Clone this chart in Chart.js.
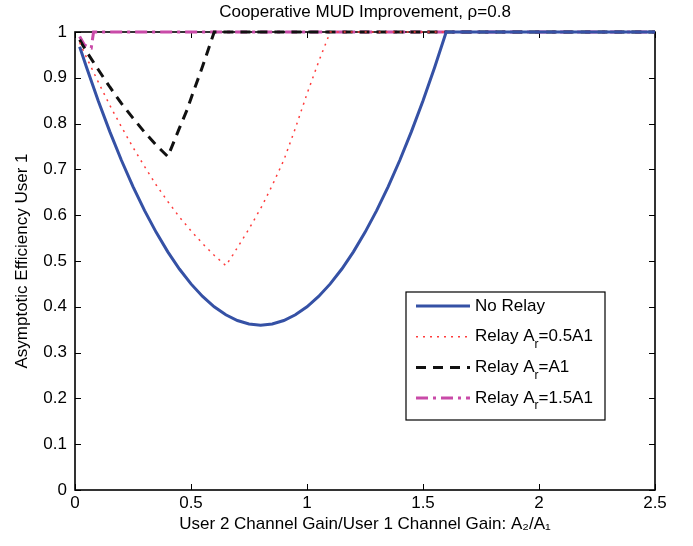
<!DOCTYPE html>
<html>
<head>
<meta charset="utf-8">
<script src="https://cdn.jsdelivr.net/npm/chart.js@4"></script>
<style>
  html, body { margin: 0; padding: 0; background: #fff; }
  #wrap { width: 693px; height: 546px; }
</style>
</head>
<body>
<div id="wrap"><canvas id="mudChart"></canvas></div>
<script>
const xTicks = [0, 0.5, 1, 1.5, 2, 2.5];
const yTicks = [0, 0.1, 0.2, 0.3, 0.4, 0.5, 0.6, 0.7, 0.8, 0.9, 1];

// values
const noRelayX = [0.02, 0.05, 0.1, 0.15, 0.2, 0.25, 0.3, 0.35, 0.4, 0.45, 0.5, 0.55, 0.6, 0.65, 0.7, 0.75, 0.8,
                  0.85, 0.9, 0.95, 1.0, 1.05, 1.1, 1.15, 1.2, 1.25, 1.3, 1.35, 1.4, 1.45, 1.5, 1.55, 1.6, 2.5];
const noRelayY = [0.968, 0.9225, 0.85, 0.7825, 0.72, 0.6625, 0.61, 0.5625, 0.52, 0.4825, 0.45, 0.4225, 0.40, 0.3825, 0.37, 0.3625, 0.36,
                  0.3625, 0.37, 0.3825, 0.40, 0.4225, 0.45, 0.4825, 0.52, 0.5625, 0.61, 0.6625, 0.72, 0.7825, 0.85, 0.9225, 1.0, 1.0];

const relayHalfX = [0.02, 0.05, 0.1, 0.15, 0.2, 0.25, 0.3, 0.35, 0.4, 0.45, 0.5, 0.55, 0.6, 0.65,
                    0.68, 0.75, 0.806, 0.85, 0.9, 0.95, 1.0, 1.05, 1.1, 2.5];
const relayHalfY = [0.977, 0.944, 0.891, 0.840, 0.793, 0.748, 0.706, 0.666, 0.63, 0.596, 0.566, 0.538, 0.5125, 0.49,
                    0.513, 0.57, 0.62, 0.665, 0.72, 0.79, 0.865, 0.935, 1.0, 1.0];

const relayOneX = [0.02, 0.05, 0.1, 0.15, 0.2, 0.25, 0.3, 0.35, 0.4, 0.45, 0.483, 0.5, 0.55, 0.6, 2.5];
const relayOneY = [0.983, 0.957, 0.918, 0.880, 0.844, 0.812, 0.781, 0.753, 0.728, 0.79, 0.83, 0.855, 0.925, 1.0, 1.0];

const relayOneHalfX = [0.02, 0.04, 0.06, 0.07, 0.08, 2.5];
const relayOneHalfY = [0.99, 0.972, 0.966, 0.965, 1.0, 1.0];

const seriesLabels = ['No Relay', 'Relay A_r=0.5A1', 'Relay A_r=A1', 'Relay A_r=1.5A1'];

const FONT = '"Liberation Sans", Arial, Helvetica, sans-serif';

function pts(xs, ys) {
    return xs.map((x, i) => ({ x: x, y: ys[i] }));
}

const framePlugin = {
    id: 'frame',
    beforeDatasetsDraw(chart) {
        const { ctx, chartArea: a, scales: { x, y } } = chart;
        ctx.save();
        ctx.strokeStyle = '#000';
        ctx.lineWidth = 1;
        ctx.beginPath();
        xTicks.forEach(v => {
            const px = Math.round(x.getPixelForValue(v)) + 0.5;
            ctx.moveTo(px, a.bottom); ctx.lineTo(px, a.bottom - 6);
            ctx.moveTo(px, a.top); ctx.lineTo(px, a.top + 6);
        });
        yTicks.forEach(v => {
            const py = Math.round(y.getPixelForValue(v)) + 0.5;
            ctx.moveTo(a.left, py); ctx.lineTo(a.left + 6, py);
            ctx.moveTo(a.right, py); ctx.lineTo(a.right - 6, py);
        });
        ctx.stroke();
        ctx.lineWidth = 1.6;
        ctx.strokeRect(a.left, a.top, a.right - a.left, a.bottom - a.top);
        ctx.restore();
    }
};

// matlab-like legend box inside the axes, with subscript r
const boxLegend = {
    id: 'boxLegend',
    afterDatasetsDraw(chart) {
        const { ctx, chartArea: a } = chart;
        const bx = a.right - 249, by = a.top + 260, bw = 199, bh = 128;
        ctx.save();
        ctx.fillStyle = '#fff';
        ctx.fillRect(bx, by, bw, bh);
        ctx.strokeStyle = '#000';
        ctx.lineWidth = 1.2;
        ctx.strokeRect(bx, by, bw, bh);
        chart.data.datasets.forEach((ds, i) => {
            const ry = by + 14 + i * 30.7;
            ctx.strokeStyle = ds.borderColor;
            ctx.lineWidth = ds.borderWidth;
            ctx.setLineDash(ds.borderDash || []);
            ctx.beginPath();
            ctx.moveTo(bx + 10, ry);
            ctx.lineTo(bx + 64, ry);
            ctx.stroke();
            ctx.setLineDash([]);

            ctx.fillStyle = '#000';
            ctx.textBaseline = 'middle';
            let tx = bx + 69;
            const parts = seriesLabels[i].split('_');
            ctx.font = '17px ' + FONT;
            ctx.fillText(parts[0], tx, ry);
            tx += ctx.measureText(parts[0]).width;
            if (parts.length > 1) {
                const sub = parts[1].charAt(0);
                const rest = parts[1].slice(1);
                ctx.font = '12px ' + FONT;
                ctx.fillText(sub, tx, ry + 8);
                tx += ctx.measureText(sub).width;
                ctx.font = '17px ' + FONT;
                ctx.fillText(rest, tx, ry);
            }
        });
        ctx.restore();
    }
};

new Chart(document.getElementById('mudChart'), {
    type: 'line',
    data: {
        datasets: [
            { label: seriesLabels[0], data: pts(noRelayX, noRelayY), borderColor: '#3551a5', borderWidth: 3 },
            { label: seriesLabels[1], data: pts(relayHalfX, relayHalfY), borderColor: '#ff3c3c', borderWidth: 1.5, borderDash: [2, 5] },
            { label: seriesLabels[2], data: pts(relayOneX, relayOneY), borderColor: '#111111', borderWidth: 3, borderDash: [10, 7] },
            { label: seriesLabels[3], data: pts(relayOneHalfX, relayOneHalfY), borderColor: '#c94aa8', borderWidth: 3, borderDash: [12, 5, 3, 5] }
        ]
    },
    options: {
        responsive: true,
        maintainAspectRatio: false,
        animation: false,
        layout: { padding: { left: 0, right: 38, top: 0, bottom: 0 } },
        elements: { point: { radius: 0 }, line: { tension: 0, fill: false } },
        datasets: { line: { clip: false } },
        plugins: {
            legend: { display: false },
            tooltip: { enabled: false },
            title: {
                display: true,
                fullSize: false,
                text: 'Cooperative MUD Improvement, ρ=0.8',
                color: '#000',
                font: { family: FONT, size: 17, weight: 'normal' },
                padding: { top: 2, bottom: 9.6 }
            }
        },
        scales: {
            x: {
                type: 'linear',
                min: 0,
                max: 2.5,
                afterBuildTicks: s => { s.ticks = xTicks.map(v => ({ value: v })); },
                afterFit: s => { s.height = 56; },
                grid: { display: false },
                border: { display: false },
                ticks: { color: '#000', padding: -5, maxRotation: 0, font: { family: FONT, size: 17 }, callback: v => String(v) },
                title: {
                    display: true,
                    text: 'User 2 Channel Gain/User 1 Channel Gain: A₂/A₁',
                    color: '#000',
                    font: { family: FONT, size: 17 },
                    padding: { top: 0, bottom: 11 }
                }
            },
            y: {
                min: 0,
                max: 1,
                afterBuildTicks: s => { s.ticks = yTicks.map(v => ({ value: v })); },
                afterFit: s => { s.width = 75; },
                grid: { display: false },
                border: { display: false },
                ticks: { color: '#000', padding: 0, font: { family: FONT, size: 17 }, callback: v => String(v) },
                title: {
                    display: true,
                    text: 'Asymptotic Efficiency User 1',
                    color: '#000',
                    font: { family: FONT, size: 17 },
                    padding: { top: 12, bottom: 0 }
                }
            }
        }
    },
    plugins: [framePlugin, boxLegend]
});
</script>
</body>
</html>
